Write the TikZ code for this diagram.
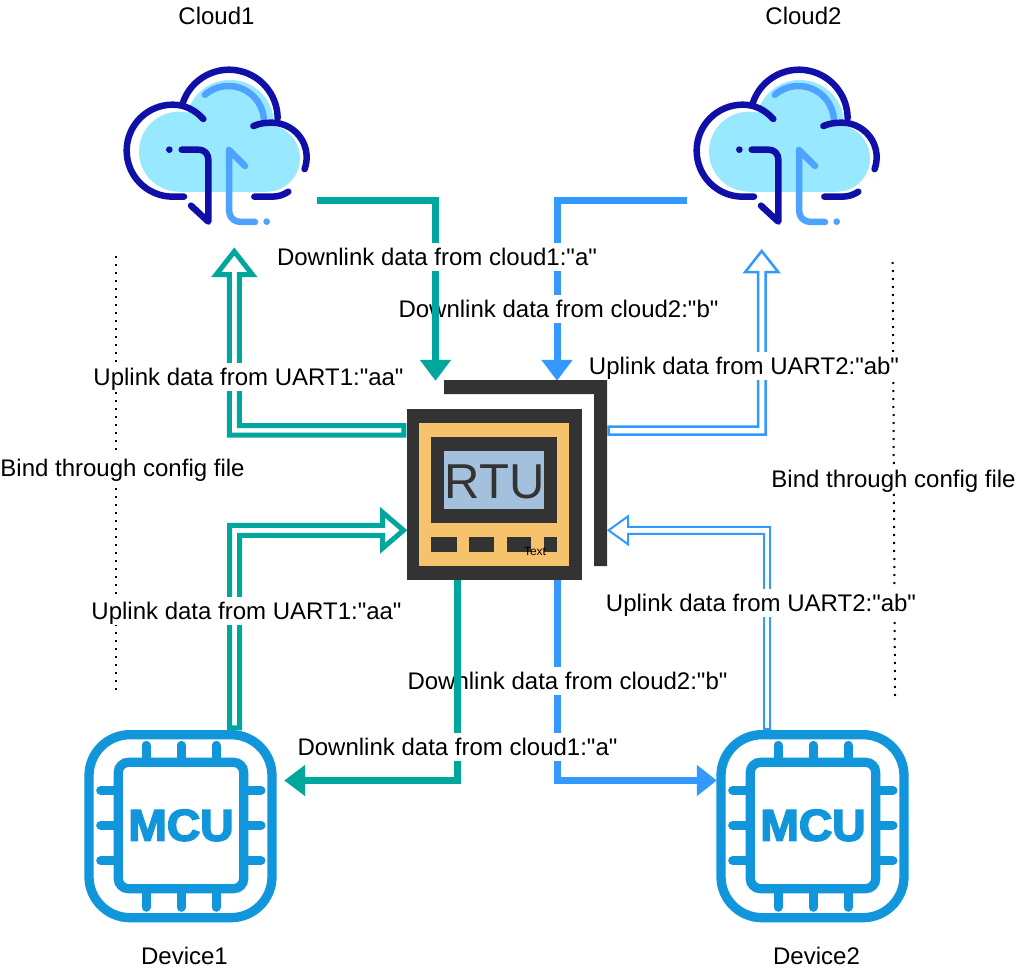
\documentclass[tikz,border=0pt]{standalone}
\usepackage{fontspec}
\setmainfont{Liberation Sans}
\newfontfamily\lblfont{Liberation Sans}
\newfontfamily\mcufont[BoldFeatures={FakeBold=3.5}]{Liberation Sans}
\usetikzlibrary{arrows.meta,calc}
\definecolor{tealc}{HTML}{00A79D}
\definecolor{bluec}{HTML}{3399FF}
\definecolor{navyc}{HTML}{1010A8}
\definecolor{cyanc}{HTML}{98E8FF}
\definecolor{skyc}{HTML}{4DA3FF}
\definecolor{mcuc}{HTML}{1296DB}
\definecolor{darkc}{HTML}{333333}
\definecolor{orangec}{HTML}{F6C26B}
\definecolor{screenc}{HTML}{A3C1DC}
\tikzset{
  lbl/.style={font=\lblfont\fontsize{24}{28}\selectfont,fill=white,inner xsep=0pt,inner ysep=2pt,text height=20.3pt,text depth=3.7pt},
  dnteal/.style={draw=tealc,line width=7pt,-{Triangle[width=30pt,length=21pt,sep=0pt]}},
  dnblue/.style={draw=bluec,line width=7pt,-{Triangle[width=30pt,length=21pt,sep=0pt]}},
  dnbluethin/.style={draw=bluec,line width=6.5pt,-{Triangle[width=30pt,length=20pt,sep=0pt]}},
  hollowteal/.style={draw=tealc,line width=5pt,miter limit=10},
  hollowblue/.style={draw=bluec,line width=2.5pt,miter limit=10},
  hollowthin/.style={draw=bluec,line width=2pt,miter limit=10},
  dots/.style={draw=black,line width=2pt,dash pattern=on 2pt off 6pt},
  cloudicon/.pic={
    \begin{scope}[x=.33333pt,y=-.33333pt,line cap=round,line join=round]
      \fill[cyanc] (207,305) circle[radius=120];
      \fill[cyanc] (470,325) circle[radius=100];
      \fill[cyanc] (360,222) circle[radius=132];
      \fill[cyanc] (207,200) rectangle (470,425);
      \draw[skyc,line width=6.5pt] (355,215)+(229:107) arc[start angle=229,end angle=355,radius=107];
      \draw[skyc,line width=6.5pt] (405,348) -- (357,300) -- (357,475) .. controls (357,503) and (370,516) .. (398,516) -- (435,516);
      \fill[skyc] (470,515) circle[radius=10];
      \begin{scope}[draw=navyc,line width=6.5pt]
        \draw (218,160) arc[start angle=198,end angle=360,radius=146];
        \draw (280,207) .. controls (255,180) and (225,164) .. (188,164) arc[start angle=270,end angle=90,radius=138] -- (222,440);
        \draw (430,228) .. controls (450,220) and (465,218) .. (486,218) arc[start angle=270,end angle=380,radius=104];
        \draw (433,440) -- (485,440) .. controls (505,440) and (520,435) .. (535,425);
        \draw (215,299) -- (262,299) .. controls (285,299) and (295,310) .. (295,332) -- (295,515) -- (243,467);
      \end{scope}
      \fill[navyc] (178,299) circle[radius=10];
    \end{scope}
  },
  mcuicon/.pic={
    \begin{scope}[x=.33333pt,y=-.33333pt,draw=mcuc]
      \draw[line width=9.3pt,rounded corners=41pt] (57,44) rectangle (606,593);
      \draw[line width=9.3pt,rounded corners=10pt] (145,127) rectangle (521,506);
      \foreach \p in {228,333,438}{
        \draw[line width=9pt,line cap=round] (\p,76) -- (\p,127);
        \draw[line width=9pt,line cap=round] (\p,506) -- (\p,562);
      }
      \foreach \p in {211,316,422}{
        \draw[line width=9pt,line cap=round] (92,\p) -- (145,\p);
        \draw[line width=9pt,line cap=round] (521,\p) -- (573,\p);
      }
      \node[inner sep=0pt,text=mcuc,font=\mcufont\bfseries\fontsize{44.5}{44}\selectfont] at (333,316) {\scalebox{1.04}[1]{MCU}};
    \end{scope}
  }
}
\begin{document}
\begin{tikzpicture}[x=1pt,y=-1pt]
\useasboundingbox (0,0) rectangle (1017,971);
\fill[white] (0,0) rectangle (1017,971);
% named frames of the icons
\node[inner sep=0pt,minimum width=194pt,minimum height=160pt] (cloud1) at (220,146) {};
\node[inner sep=0pt,minimum width=193pt,minimum height=160pt] (cloud2) at (783.5,146) {};
\node[inner sep=0pt,minimum width=191pt,minimum height=191pt] (mcu1) at (180.5,825.5) {};
\node[inner sep=0pt,minimum width=191pt,minimum height=191pt] (mcu2) at (812.5,825.5) {};
\node[inner sep=0pt,minimum width=175pt,minimum height=171pt] (rtu) at (494.5,494.5) {};
\node[inner sep=0pt,minimum width=200pt,minimum height=186pt] (rtuback) at (507,474) {};
\coordinate (dotLa) at (115.5,256);
\coordinate (dotLb) at (115.5,692);
\coordinate (dotRa) at (892.7,262);
\coordinate (dotRb) at (895,697);
% dotted separators
\draw[dots] (dotLa) -- (dotLb);
\draw[dots] (dotRa) -- (dotRb);
% hollow uplink arrows
\draw[hollowteal] (rtu.west |- 0,425.5) ++(-3,0) -- ++(-164.5,0) -- ++(0,-151) -- ++(13,0) -- ++(-18,-23) -- ++(-18,23) -- ++(13,0) -- ++(0,160.5) -- ++(174.5,0) -- cycle;
\draw[hollowteal] (239.5,0 |- mcu1.north) ++(0,-2) -- ++(0,-192.5) -- ++(143,0) -- ++(0,13) -- ++(21,-18) -- ++(-21,-18) -- ++(0,13) -- ++(-153,0) -- ++(0,202.5) -- cycle;
\draw[hollowblue] (rtuback.east |- 0,426.5) ++(1.5,0) -- ++(149.5,0) -- ++(0,-154.5) -- ++(-13,0) -- ++(16.5,-21) -- ++(16.5,21) -- ++(-12.5,0) -- ++(0,162.5) -- ++(-157,0) -- cycle;
\draw[hollowthin] (764,0 |- mcu2.north) ++(0,-1) -- ++(0,-195) -- ++(-136,0) -- ++(0,10.5) -- ++(-19.4,-14) -- ++(19.4,-14) -- ++(0,10.5) -- ++(142,0) -- ++(0,202) -- cycle;
% downlink lines and labels, in the reference's stacking order
\draw[dnblue] (cloud2.west |- 0,200.5) -| (557,0 |- rtuback.north);
\draw[dnbluethin] (557.5,0 |- rtu.south) |- (mcu2.west |- 0,780.5);
\node[lbl] (labC2a) at (558.5,309) {Downlink data from cloud2:"b"};
\node[lbl] (labC2b) at (567.5,681) {Downlink data from cloud2:"b"};
\draw[dnteal] (cloud1.east |- 0,200.5) -| (435.5,0 |- rtuback.north);
\draw[dnteal] (457.5,0 |- rtu.south) |- ($(mcu1.east |- 0,780.5)+(8,0)$);
\node[lbl] (labC1a) at (437,257) {Downlink data from cloud1:"a"};
\node[lbl] (labC1b) at (457.5,747) {Downlink data from cloud1:"a"};
% uplink labels
\node[lbl] (labU1a) at (248.5,377) {Uplink data from UART1:"aa"};
\node[lbl] (labU2a) at (744,366) {Uplink data from UART2:"ab"};
\node[lbl] (labU1b) at (246.5,611) {Uplink data from UART1:"aa"};
\node[lbl] (labU2b) at (761,603) {Uplink data from UART2:"ab"};
\node[lbl] (labBL) at (122.5,468.4) {Bind through config file};
\node[lbl] (labBR) at (893.5,478.7) {Bind through config file};
% captions
\node[lbl] (capC1) at (216.5,16) {Cloud1};
\node[lbl] (capC2) at (803.5,16) {Cloud2};
\node[lbl] (capD1) at (184.5,956) {Device1};
\node[lbl] (capD2) at (816.5,956) {Device2};
% icons
\pic at (110,50) {cloudicon};
\pic at (680,50) {cloudicon};
\pic at (70,720) {mcuicon};
\pic at (702,720) {mcuicon};
% RTU
\fill[darkc] (444,380) -- (607,380) -- (607,566) -- (594,566) -- (594,394) -- (444,394) -- cycle;
\fill[darkc] (407,409) rectangle (582,580);
\fill[orangec] (419,423) rectangle (569,566);
\fill[darkc] (431,437) rectangle (557,523);
\fill[screenc] (444,451) rectangle (544,509);
\fill[darkc] (431,537) rectangle (456.5,552);
\fill[darkc] (469,537) rectangle (494,552);
\fill[darkc] (506.5,537) rectangle (531,552);
\fill[darkc] (544,537) rectangle (557,552);
\node[inner sep=0pt,text=darkc,font=\lblfont\fontsize{49}{50}\selectfont] (rtulabel) at (494.5,481.5) {RTU};
\node[inner sep=0pt,text=black,font=\lblfont\fontsize{12}{14}\selectfont] (rtutext) at (535,551) {Text};
\end{tikzpicture}
\end{document}
